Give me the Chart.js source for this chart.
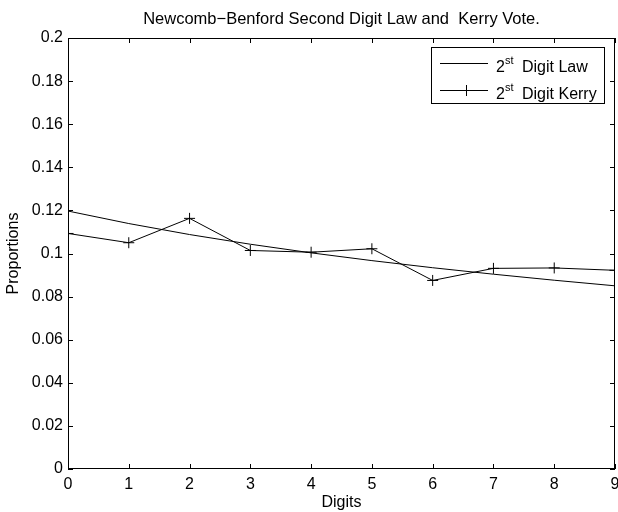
<!DOCTYPE html>
<html>
<head>
<meta charset="utf-8">
<script src="https://cdn.jsdelivr.net/npm/chart.js@4"></script>
<style>
  html, body { margin: 0; padding: 0; background: #fff; }
  #wrap { width: 618px; height: 512px; }
</style>
</head>
<body>
<div id="wrap"><canvas id="chart" width="618" height="512"></canvas></div>
<script>
const digits = [0, 1, 2, 3, 4, 5, 6, 7, 8, 9];
const lawValues = [0.1197, 0.1139, 0.1088, 0.1043, 0.1003, 0.0967, 0.0934, 0.0904, 0.0876, 0.0850];
const kerryValues = [0.1093, 0.1050, 0.1163, 0.1014, 0.1006, 0.1022, 0.0875, 0.0931, 0.0933, 0.0922];
const yTicks = [0, 0.02, 0.04, 0.06, 0.08, 0.1, 0.12, 0.14, 0.16, 0.18, 0.2];

const FONT = "'Liberation Sans', Arial, Helvetica, sans-serif";

// matlab-ish frame: box, inward ticks, tick labels, title, axis labels, legend
const matlabFrame = {
  id: "matlabFrame",
  afterDraw(chart) {
    const { ctx, chartArea: a, scales } = chart;
    const x = scales.x, y = scales.y;
    ctx.save();
    ctx.strokeStyle = "#000";
    ctx.lineWidth = 1;
    ctx.strokeRect(a.left + 0.5, a.top + 0.5, a.right - a.left - 1, a.bottom - a.top - 1);
    ctx.beginPath();
    for (const d of digits) {
      const px = Math.round(x.getPixelForValue(d)) + 0.5;
      ctx.moveTo(px, a.bottom); ctx.lineTo(px, a.bottom - 5);
      ctx.moveTo(px, a.top); ctx.lineTo(px, a.top + 5);
    }
    for (const v of yTicks) {
      const py = Math.round(y.getPixelForValue(v)) + 0.5;
      ctx.moveTo(a.left, py); ctx.lineTo(a.left + 5, py);
      ctx.moveTo(a.right, py); ctx.lineTo(a.right - 5, py);
    }
    ctx.stroke();

    ctx.fillStyle = "#000";
    ctx.font = "16px " + FONT;
    ctx.textBaseline = "middle";
    ctx.textAlign = "center";
    for (const d of digits) ctx.fillText(String(d), x.getPixelForValue(d), 485);
    ctx.textAlign = "right";
    for (const v of yTicks) ctx.fillText(String(Number(v.toFixed(2))), 63, y.getPixelForValue(v));

    ctx.textAlign = "center";
    ctx.font = "16.5px " + FONT;
    ctx.fillText("Newcomb\u2212Benford Second Digit Law and  Kerry Vote.", (a.left + a.right) / 2, 19);

    ctx.font = "16px " + FONT;
    ctx.fillText("Digits", (a.left + a.right) / 2, 503);
    ctx.save();
    ctx.translate(14, (a.top + a.bottom) / 2);
    ctx.rotate(-Math.PI / 2);
    ctx.fillText("Proportions", 0, 0);
    ctx.restore();

    // legend
    const lx = 431, ly = 47, lw = 173, lh = 56;
    ctx.fillStyle = "#fff";
    ctx.fillRect(lx, ly, lw, lh);
    ctx.strokeRect(lx + 0.5, ly + 0.5, lw, lh);
    const rows = [{ y: 63, label: "Digit Law", marker: false },
                  { y: 90, label: "Digit Kerry", marker: true }];
    for (const r of rows) {
      ctx.beginPath();
      ctx.moveTo(440, r.y + 0.5); ctx.lineTo(488, r.y + 0.5);
      if (r.marker) {
        ctx.moveTo(466.5, r.y - 5); ctx.lineTo(466.5, r.y + 6);
        ctx.moveTo(461, r.y + 0.5); ctx.lineTo(472, r.y + 0.5);
      }
      ctx.stroke();
      ctx.fillStyle = "#000";
      ctx.textAlign = "left";
      ctx.textBaseline = "alphabetic";
      ctx.font = "16px " + FONT;
      ctx.fillText("2", 496, r.y + 9);
      ctx.font = "11px " + FONT;
      ctx.fillText("st", 505, r.y + 1);
      ctx.font = "16px " + FONT;
      ctx.fillText(r.label, 522, r.y + 9);
    }
    ctx.restore();
  }
};

new Chart(document.getElementById("chart"), {
  type: "line",
  data: {
    datasets: [
      {
        label: "2st Digit Law",
        data: digits.map((d, i) => ({ x: d, y: lawValues[i] })),
        borderColor: "#000",
        borderWidth: 1,
        pointRadius: 0,
        tension: 0
      },
      {
        label: "2st Digit Kerry",
        data: digits.map((d, i) => ({ x: d, y: kerryValues[i] })),
        borderColor: "#000",
        borderWidth: 1,
        pointStyle: "cross",
        pointRadius: 5.5,
        pointBorderColor: "#000",
        pointBorderWidth: 1,
        tension: 0
      }
    ]
  },
  options: {
    responsive: false,
    animation: false,
    events: [],
    layout: { autoPadding: false, padding: { left: 0, right: 3, top: 38, bottom: 0 } },
    plugins: { legend: { display: false }, tooltip: { enabled: false }, title: { display: false } },
    scales: {
      x: {
        type: "linear",
        min: 0, max: 9,
        afterBuildTicks: s => { s.ticks = digits.map(v => ({ value: v })); },
        afterFit: s => { s.height = 43; s.paddingLeft = 0; s.paddingRight = 0; },
        grid: { display: false },
        border: { display: false },
        ticks: { display: false }
      },
      y: {
        min: 0, max: 0.2,
        afterBuildTicks: s => { s.ticks = yTicks.map(v => ({ value: v })); },
        afterFit: s => { s.width = 68; s.paddingTop = 0; s.paddingBottom = 0; },
        grid: { display: false },
        border: { display: false },
        ticks: { display: false }
      }
    }
  },
  plugins: [matlabFrame]
});
</script>
</body>
</html>
